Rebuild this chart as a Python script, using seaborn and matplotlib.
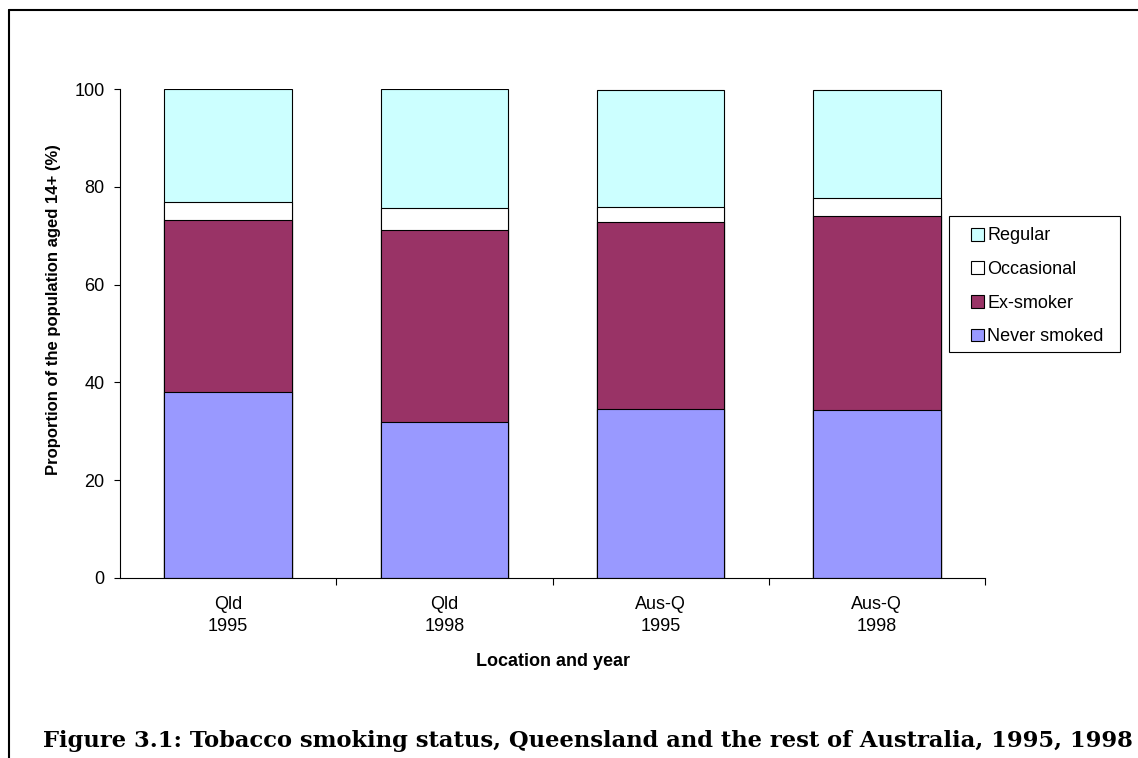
import matplotlib
matplotlib.use("Agg")
import matplotlib.pyplot as plt
import seaborn as sns
import pandas as pd
import numpy as np
from matplotlib.lines import Line2D
from matplotlib.patches import Patch, Rectangle

categories = ["Qld\n1995", "Qld\n1998", "Aus-Q\n1995", "Aus-Q\n1998"]
never_smoked = [38.1, 31.9, 34.6, 34.3]
ex_smoker = [35.1, 39.2, 38.1, 39.7]
occasional = [3.6, 4.5, 3.2, 3.8]
regular = [23.2, 24.4, 23.9, 22.0]

series_names = ["Never smoked", "Ex-smoker", "Occasional", "Regular"]
series_vals = [never_smoked, ex_smoker, occasional, regular]
colors = {"Never smoked": "#9999FF", "Ex-smoker": "#993366",
          "Occasional": "#FFFFFF", "Regular": "#CCFFFF"}

sns.set_theme(style="white")
plt.rcParams['font.family'] = ['Liberation Sans', 'DejaVu Sans']
plt.rcParams.update({"text.color": "black", "axes.labelcolor": "black",
                     "xtick.color": "black", "ytick.color": "black"})

FS = 13
W, H = 1138, 758
fig = plt.figure(figsize=(W / 100, H / 100), dpi=100)
ax = fig.add_axes([120 / W, 180 / H, 865 / W, 489 / H])

cum = np.cumsum(np.array(series_vals), axis=0)
df = pd.DataFrame({"cat": categories})
# draw from top layer down so each cumulative bar shows its own segment
for i in range(len(series_names) - 1, -1, -1):
    name = series_names[i]
    df["val"] = cum[i]
    sns.barplot(data=df, x="cat", y="val", color=colors[name], saturation=1,
                width=0.59, edgecolor="black", linewidth=0.8, ax=ax, errorbar=None)

ax.set_xlim(-0.5, 3.5)
ax.set_ylim(0, 100)
ax.set_yticks([0, 20, 40, 60, 80, 100])
ax.tick_params(axis="y", which="major", direction="out", length=4.5, width=0.8,
               labelsize=FS, left=True, pad=6.5)
ax.set_xticks(range(4))
ax.set_xticklabels(categories, fontsize=FS, linespacing=1.4)
ax.tick_params(axis="x", which="major", length=0, pad=13)
ax.set_xticks([0.5, 1.5, 2.5, 3.5], minor=True)
ax.tick_params(axis="x", which="minor", direction="out", length=5, width=0.8,
               bottom=True)
for s in ["top", "right"]:
    ax.spines[s].set_visible(False)
for s in ["left", "bottom"]:
    ax.spines[s].set_color("black")
    ax.spines[s].set_linewidth(0.8)

ax.set_ylabel("Proportion of the population aged 14+ (%)", fontsize=12,
              fontweight="bold")
ax.yaxis.set_label_coords(-0.068, 0.548)
ax.set_xlabel("Location and year", fontsize=FS, fontweight="bold", labelpad=13)
ax.grid(False)

handles = [Patch(facecolor=colors[n], edgecolor="black", linewidth=0.8, label=n)
           for n in ["Regular", "Occasional", "Ex-smoker", "Never smoked"]]
leg = fig.legend(handles=handles, loc="upper left",
                 bbox_to_anchor=(971 / W, 1 - 227.5 / H), fontsize=FS,
                 frameon=False,
                 handlelength=0.7, handleheight=0.7, handletextpad=0.2,
                 labelspacing=0.92, borderpad=0, borderaxespad=0)
fig.add_artist(Rectangle((949 / W, 1 - 352 / H), 171 / W, 136 / H,
                         transform=fig.transFigure, facecolor="none",
                         edgecolor="black", linewidth=0.8))

fig.text(43 / W, 1 - 747 / H,
         "Figure 3.1: Tobacco smoking status, Queensland and the rest of Australia, 1995, 1998",
         fontsize=16.3, fontweight="bold", family=["DejaVu Serif"], va="baseline", ha="left")

fig.add_artist(Line2D([8.5 / W, 8.5 / W], [0, 1 - 10 / H], transform=fig.transFigure,
                      color="black", linewidth=1.5))
fig.add_artist(Line2D([8.5 / W, 1], [1 - 10 / H, 1 - 10 / H], transform=fig.transFigure,
                      color="black", linewidth=1.5))

fig.savefig("out.png", dpi=100, facecolor="white")
